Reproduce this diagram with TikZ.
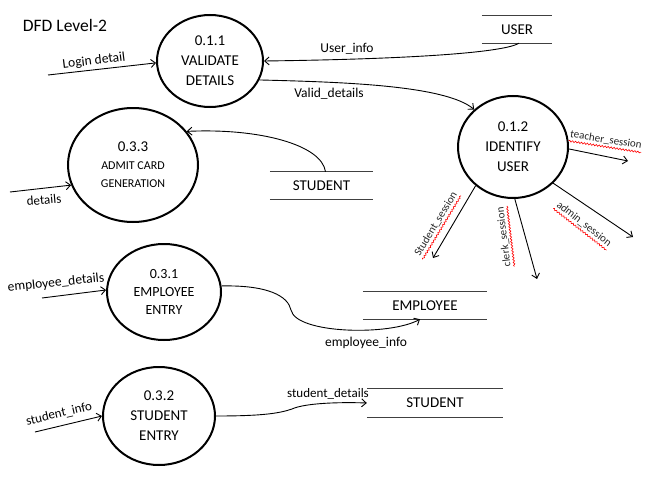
\documentclass[tikz,border=0pt]{standalone}
\usepackage{fontspec}
\setmainfont{Carlito}
\usetikzlibrary{shapes.geometric,arrows.meta,decorations.pathmorphing}
\begin{document}
\begin{tikzpicture}[x=1pt,y=-1pt,
 proc/.style={ellipse, draw, line width=2pt, inner sep=0pt, align=center, font=\fontsize{15}{20}\selectfont},
 flow/.style={-{Straight Barb[length=4.5pt,width=8pt]}, line width=0.9pt},
 lbl/.style={font=\fontsize{13.5}{16}\selectfont, inner sep=1pt},
 lbls/.style={font=\fontsize{13}{16}\selectfont, inner sep=1pt},
 slbl/.style={font=\fontsize{11}{13}\selectfont, inner xsep=0.5pt, inner ysep=2pt, text=black!85},
 store/.style={minimum height=27pt, inner sep=0pt, font=\fontsize{15}{18}\selectfont},
 storeline/.style={line width=1.1pt, black!75},
 squig/.style={red, line width=0.6pt, decorate, decoration={snake, amplitude=0.8pt, segment length=3pt}}
]
\useasboundingbox (0,0) rectangle (647,487);

% title
\node[font=\fontsize{17.5}{20}\selectfont] (title) at (65,25) {DFD Level-2};

% processes
\node[proc, minimum width=106pt, minimum height=92pt] (v111) at (210,61) {0.1.1\\VALIDATE\\DETAILS};
\node[proc, minimum width=110pt, minimum height=102pt] (v112) at (513,147) {0.1.2\\IDENTIFY\\USER};
\node[proc, minimum width=130pt, minimum height=114pt] (v333) at (133,165)
  {\fontsize{15}{17}\selectfont 0.3.3\\[-2pt]\fontsize{12}{14}\selectfont ADMIT CARD\\[-2pt]\fontsize{12}{14}\selectfont GENERATION};
\node[proc, minimum width=114pt, minimum height=96pt, font=\fontsize{14}{18}\selectfont] (v331) at (164,292) {0.3.1\\EMPLOYEE\\ENTRY};
\node[proc, minimum width=112pt, minimum height=98pt] (v332) at (159,416) {0.3.2\\STUDENT\\ENTRY};

% data stores
\node[store, minimum width=70pt] (userS) at (517,29.5) {USER};
\draw[storeline] (userS.north west) -- (userS.north east) (userS.south west) -- (userS.south east);
\node[store, minimum width=103pt] (stud1) at (321.5,185.5) {STUDENT};
\draw[storeline] (stud1.north west) -- (stud1.north east) (stud1.south west) -- (stud1.south east);
\node[store, minimum width=124pt] (empS) at (425,305.5) {EMPLOYEE};
\draw[storeline] (empS.north west) -- (empS.north east) (empS.south west) -- (empS.south east);
\node[store, minimum width=136pt, minimum height=28pt] (stud2) at (435,403) {STUDENT};
\draw[storeline] (stud2.north west) -- (stud2.north east) (stud2.south west) -- (stud2.south east);

% Login detail
\coordinate (ldS) at (48,75);
\draw[flow] (ldS) -- (v111.182);
\node[lbl, rotate=7] (ldL) at (94,61) {Login detail};

% User_info
\draw[flow] ([xshift=2pt]userS.south) .. controls (505,52) and (420,59) .. (v111.east);
\node[lbl] (uiL) at (347,49) {User\_info};

% Valid_details
\draw[flow] (v111.-21) .. controls (340,82) and (445,85) .. (v112.136);
\node[lbl] (vdL) at (329,94) {Valid\_details};

% STUDENT -> admit card
\draw[flow] ([xshift=4pt]stud1.north) .. controls (322,145) and (260,128) .. (v333.32);

% details
\coordinate (dtS) at (10,192);
\draw[flow] (dtS) -- (v333.198);
\node[lbls, rotate=5] (dtL) at (44,200) {details};

% sessions
\coordinate (tsE) at (628,161);
\draw[flow] (v112.-2) -- (tsE);
\node[slbl, rotate=-9] (tsL) at (606,140) {teacher\_session};
\draw[squig] (tsL.south west) -- (tsL.south east);

\coordinate (asE) at (633,237);
\draw[flow] (v112.-42) -- (asE);
\node[slbl, rotate=-38] (asL) at (584,224) {admin\_session};
\draw[squig] (asL.south west) -- (asL.south east);

\coordinate (csE) at (537,279);
\draw[flow] (v112.-88) -- (csE);
\node[slbl, rotate=97] (csL) at (504,237) {clerk\_session};
\draw[squig] (csL.south west) -- (csL.south east);

\coordinate (ssE) at (433,258);
\draw[flow] (v112.226) -- (ssE);
\node[slbl, rotate=59] (ssL) at (436,224) {Student\_session};
\draw[squig] (ssL.south west) -- (ssL.south east);

% employee_details
\coordinate (edS) at (42,298);
\draw[flow] (edS) -- (v331.178);
\node[lbl, rotate=6] (edL) at (56,283) {employee\_details};

% employee_info
\draw[flow] (v331.6) .. controls (268,285) and (288,296) .. (291,310) .. controls (296,334) and (390,336) .. ([xshift=-5pt]empS.south);
\node[lbl] (eiL) at (366,343) {employee\_info};

% student_info
\coordinate (siS) at (35,432);
\draw[flow] (siS) -- (v332.west);
\node[lbls, rotate=13] (siL) at (59,414) {student\_info};

% student_details
\draw[flow] (v332.east) .. controls (265,416) and (280,413) .. (292,409) .. controls (305,403) and (340,402) .. (stud2.west);
\node[lbls] (sdL) at (328,394) {student\_details};
\end{tikzpicture}
\end{document}
